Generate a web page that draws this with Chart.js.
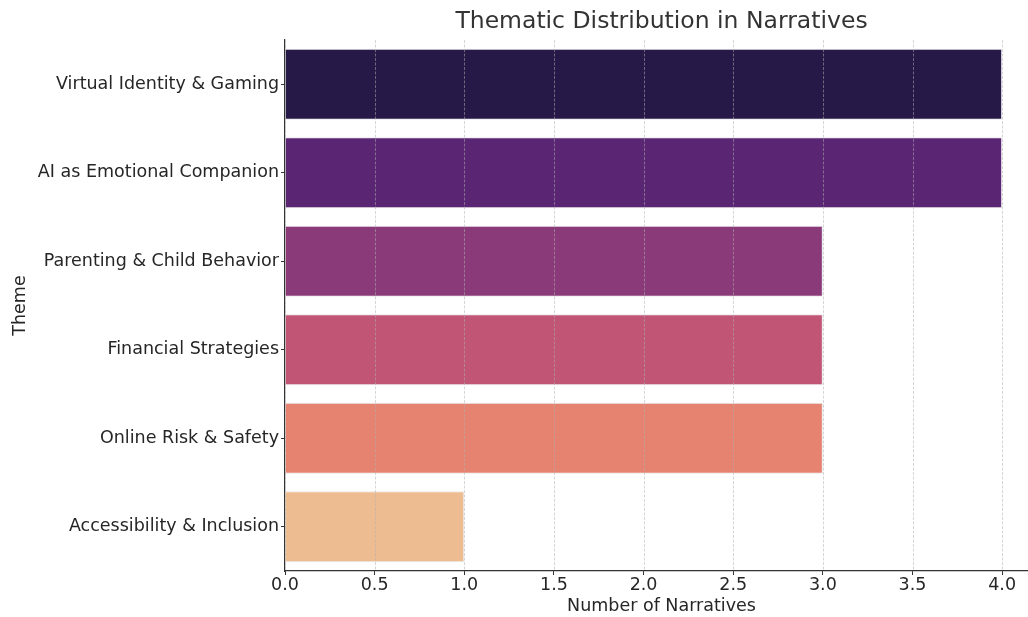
<!DOCTYPE html>
<html>
<head>
<meta charset="utf-8">
<script src="https://cdn.jsdelivr.net/npm/chart.js@4"></script>
<style>
  html, body { margin: 0; padding: 0; background: #fff; overflow: hidden; }
  #wrap { position: absolute; left: 0; top: 0; width: 1060px; height: 617px; }
</style>
</head>
<body>
<div id="wrap"><canvas id="chart" width="1060" height="617"></canvas></div>
<script>
const themes = [
    'Virtual Identity & Gaming',
    'AI as Emotional Companion',
    'Parenting & Child Behavior',
    'Financial Strategies',
    'Online Risk & Safety',
    'Accessibility & Inclusion'
];
const narrativeCounts = [4, 4, 3, 3, 3, 1];
const barColors = ['#261948', '#5a2572', '#8b3a79', '#c15575', '#e58370', '#eebc91'];
const xTicks = [0, 0.5, 1, 1.5, 2, 2.5, 3, 3.5, 4];

const textColor = '#262626';
const fontFamily = 'DejaVu Sans';
const fontSize = 17.5;

// title centred over the plot area, like matplotlib does
const titlePlugin = {
    id: 'plotTitle',
    afterDraw(chart) {
        const { ctx, chartArea } = chart;
        ctx.save();
        ctx.font = '23.5px "' + fontFamily + '"';
        ctx.fillStyle = '#333333';
        ctx.textAlign = 'center';
        ctx.textBaseline = 'middle';
        ctx.fillText('Thematic Distribution in Narratives', (chartArea.left + chartArea.right) / 2, 22);
        ctx.restore();
    }
};

// dashed vertical grid lines, drawn over the bars
const gridPlugin = {
    id: 'gridOver',
    afterDatasetsDraw(chart) {
        const { ctx, chartArea, scales } = chart;
        ctx.save();
        ctx.strokeStyle = 'rgba(176,176,176,0.65)';
        ctx.lineWidth = 0.8;
        ctx.setLineDash([3, 1.5]);
        xTicks.forEach(v => {
            const x = Math.round(scales.x.getPixelForValue(v)) + 0.5;
            ctx.beginPath();
            ctx.moveTo(x, chartArea.top);
            ctx.lineTo(x, chartArea.bottom);
            ctx.stroke();
        });
        ctx.restore();
    }
};

new Chart(document.getElementById('chart'), {
    type: 'bar',
    data: {
        labels: themes,
        datasets: [{
            data: narrativeCounts,
            backgroundColor: barColors,
            borderColor: 'rgba(230,230,235,0.9)',
            borderWidth: 1,
            categoryPercentage: 1,
            barPercentage: 0.8
        }]
    },
    options: {
        indexAxis: 'y',
        responsive: false,
        animation: false,
        layout: { padding: { top: 40, right: 22, left: 0, bottom: 0 } },
        plugins: {
            legend: { display: false },
            tooltip: { enabled: false }
        },
        scales: {
            x: {
                min: 0,
                max: 4.2,
                afterBuildTicks(axis) {
                    axis.ticks = xTicks.map(v => ({ value: v }));
                },
                afterFit(axis) { axis.height = 46; },
                ticks: {
                    color: textColor,
                    font: { family: fontFamily, size: fontSize },
                    padding: 0,
                    maxRotation: 0,
                    callback: v => Number(v).toFixed(1)
                },
                grid: {
                    drawOnChartArea: false,
                    color: '#333333',
                    tickLength: 4,
                    tickWidth: 1
                },
                border: { display: true, color: '#333333', width: 1.2 },
                title: {
                    display: true,
                    text: 'Number of Narratives',
                    color: textColor,
                    font: { family: fontFamily, size: fontSize },
                    padding: { top: 0, bottom: 0 }
                }
            },
            y: {
                afterFit(axis) { axis.width = 285; },
                ticks: {
                    color: textColor,
                    font: { family: fontFamily, size: fontSize },
                    padding: 2
                },
                grid: {
                    offset: false,
                    drawOnChartArea: false,
                    color: '#333333',
                    tickLength: 4,
                    tickWidth: 1
                },
                border: { display: true, color: '#333333', width: 1.2 },
                title: {
                    display: true,
                    text: 'Theme',
                    color: textColor,
                    font: { family: fontFamily, size: fontSize },
                    padding: { top: 10, bottom: 0 }
                }
            }
        }
    },
    plugins: [titlePlugin, gridPlugin]
});
</script>
</body>
</html>
